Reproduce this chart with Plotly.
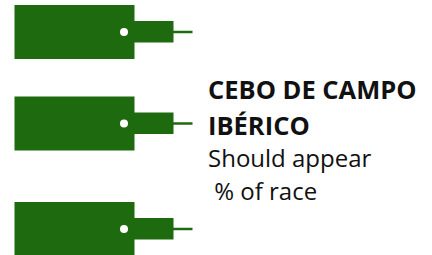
import plotly.graph_objects as go

# Data
tag_centers = [32, 123.5, 229]          # vertical centre of each tag
text_lines = ["CEBO DE CAMPO", "IBÉRICO", "Should appear", " % of race"]
text_bold = [True, True, False, False]
text_y = [88.5, 125, 157.5, 190]

GREEN = "#1e6a0f"
W, H = 432, 255

fig = go.Figure()
shapes = []
for c in tag_centers:
    # main body
    shapes.append(dict(type="rect", x0=14.5, x1=134.5, y0=c - 27, y1=c + 27,
                       fillcolor=GREEN, line=dict(width=0), layer="above"))
    # neck
    shapes.append(dict(type="rect", x0=134, x1=173.5, y0=c - 11, y1=c + 10.5,
                       fillcolor=GREEN, line=dict(width=0), layer="above"))
    # string
    shapes.append(dict(type="line", x0=173, x1=192.5, y0=c, y1=c,
                       line=dict(color=GREEN, width=2.5), layer="above"))
    # hole
    shapes.append(dict(type="circle", x0=120, x1=128, y0=c - 4, y1=c + 4,
                       fillcolor="white", line=dict(width=0), layer="above"))

annotations = []
for t, b, y in zip(text_lines, text_bold, text_y):
    annotations.append(dict(
        x=206, y=y, xref="x", yref="y", xanchor="left", yanchor="middle",
        text=("<b>%s</b>" % t) if b else t, showarrow=False,
        font=dict(family="Open Sans", size=25.5 if b else 24, color="#111111"),
    ))

fig.update_layout(
    width=W, height=H,
    margin=dict(l=0, r=0, t=0, b=0),
    paper_bgcolor="white", plot_bgcolor="white",
    xaxis=dict(range=[0, W], visible=False, fixedrange=True),
    yaxis=dict(range=[H, 0], visible=False, fixedrange=True),
    shapes=shapes, annotations=annotations, showlegend=False,
)
fig.write_html("out.html", config={"displayModeBar": False},
               post_script="document.body.style.margin='0';document.body.style.overflow='hidden';")
